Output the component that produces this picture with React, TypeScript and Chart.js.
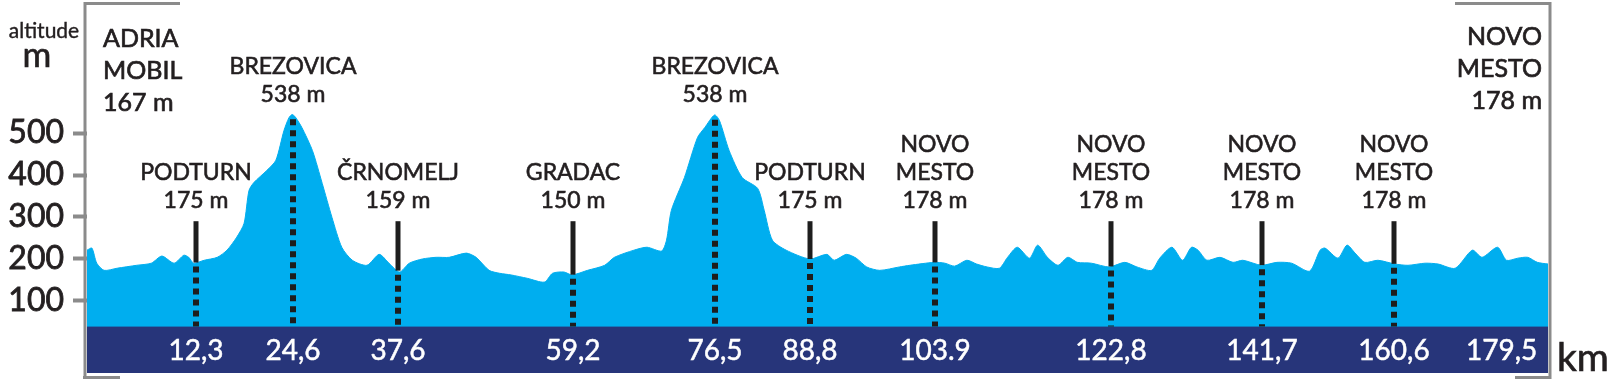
import React, { useEffect, useRef } from "react";
import { Chart, registerables } from "chart.js";

Chart.register(...registerables);

// Profile (position along the drawn km axis, altitude in m)
const PROFILE_KM = [
  0, 0.6, 1.2, 2.1, 3.7, 6.1, 7.9, 9.2, 10.7, 11.9, 12.5, 13.1, 14.4, 16.0, 17.2, 18.4, 19.3, 19.9, 20.5,
  22.1, 23.2, 24.2, 24.8, 25.2, 25.6, 26.4, 27.7, 28.9, 30.1, 31.3, 32.6, 34.4, 35.9, 37.1, 38.4, 39.6,
  41.2, 42.9, 44.5, 46.6, 47.8, 49.4, 50.7, 52.1, 54.1, 56.2, 57.2, 58.6, 59.6, 61.5, 63.6, 64.8, 67.2,
  68.8, 70.6, 71.2, 71.8, 73.4, 75.0, 75.9, 77.1, 77.7, 78.9, 80.5, 82.4, 83.2, 84.2, 85.9, 88.8, 90.9,
  91.8, 93.3, 94.5, 95.8, 97.4, 99.8, 101.1, 104.1, 105.4, 106.6, 108.1, 109.3, 110.6, 112.1, 113.1,
  114.3, 115.8, 116.8, 118.0, 119.3, 120.5, 121.7, 123.4, 125.6, 127.5, 129.0, 130.8, 131.8, 133.3,
  134.6, 135.7, 136.5, 137.6, 139.2, 140.8, 142.0, 144.3, 146.2, 148.0, 150.2, 151.5, 152.1, 153.7,
  154.8, 155.8, 157.0, 158.6, 160.7, 162.3, 164.4, 166.0, 168.1, 170.2, 171.4, 173.3, 174.4, 175.8,
  177.0, 178.2, 179.5,
];
const PROFILE_ALT = [
  221, 226, 190, 173, 178, 185, 190, 207, 190, 209, 204, 190, 197, 204, 221, 252, 285, 363, 382,
  411, 435, 506, 536, 544, 538, 513, 458, 380, 299, 228, 197, 185, 211, 190, 169, 190,
  200, 204, 204, 214, 204, 173, 166, 162, 154, 145, 166, 169, 162, 173, 185, 204, 221,
  228, 219, 245, 316, 394, 489, 513, 543, 530, 458, 394, 368, 316, 245, 221, 200, 211,
  197, 211, 202, 181, 173, 181, 185, 192, 190, 183, 197, 188, 181, 178, 204,
  228, 202, 233, 204, 185, 204, 192, 190, 181, 192, 181, 173, 202, 228,
  197, 228, 221, 197, 204, 192, 197, 185, 192, 190, 171, 221, 226, 202,
  233, 214, 192, 197, 188, 185, 190, 188, 178, 221, 204, 228, 197, 202,
  204, 192, 188,
];

// Markers: position on drawn axis, km label, name lines, altitude label
const MARKER_POS = [13.4, 25.3, 38.2, 59.7, 77.2, 88.8, 104.2, 125.8, 144.4, 160.6];
const MARKER_KM = ["12,3", "24,6", "37,6", "59,2", "76,5", "88,8", "103.9", "122,8", "141,7", "160,6"];
const MARKER_NAMES = [
  ["PODTURN"],
  ["BREZOVICA"],
  ["ČRNOMELJ"],
  ["GRADAC"],
  ["BREZOVICA"],
  ["PODTURN"],
  ["NOVO", "MESTO"],
  ["NOVO", "MESTO"],
  ["NOVO", "MESTO"],
  ["NOVO", "MESTO"],
];
const MARKER_ALT = ["175 m", "538 m", "159 m", "150 m", "538 m", "175 m", "178 m", "178 m", "178 m", "178 m"];

const FINISH_POS = 173.8;
const FINISH_KM = "179,5";
const START_LABEL = ["ADRIA", "MOBIL", "167 m"];
const FINISH_LABEL = ["NOVO", "MESTO", "178 m"];

const Y_TICKS = [100, 200, 300, 400, 500];
const Y_MIN = -71.5;
const Y_MAX = 812;
const X_MAX = 179.5;
const BAND_TOP = 39; // altitude where the km band begins
const MARKER_TOP = 290; // altitude where solid marker lines begin

const FONT = "Lato, 'Open Sans', sans-serif";
const TEXT = "#231f20";
const BLUE = "#00aeef";
const NAVY = "#27357a";
const GRAY = "#8b8b8b";

function interpAlt(km: number): number {
  for (let i = 0; i < PROFILE_KM.length - 1; i++) {
    const a = PROFILE_KM[i];
    const b = PROFILE_KM[i + 1];
    if (km >= a && km <= b) {
      const t = (km - a) / (b - a);
      return PROFILE_ALT[i] + t * (PROFILE_ALT[i + 1] - PROFILE_ALT[i]);
    }
  }
  return PROFILE_ALT[PROFILE_ALT.length - 1];
}

function boldText(ctx: CanvasRenderingContext2D, t: string, x: number, y: number, color: string, sw: number) {
  ctx.fillStyle = color;
  ctx.strokeStyle = color;
  ctx.lineWidth = sw;
  ctx.setLineDash([]);
  ctx.fillText(t, x, y);
  ctx.strokeText(t, x, y);
}

const decorPlugin = {
  id: "decor",
  afterDatasetsDraw(chart: any) {
    const ctx: CanvasRenderingContext2D = chart.ctx;
    const xs = chart.scales.x;
    const ys = chart.scales.y;
    const ca = chart.chartArea;
    ctx.save();

    // km band
    const bandTop = ys.getPixelForValue(BAND_TOP);
    ctx.fillStyle = NAVY;
    ctx.fillRect(ca.left, bandTop, ca.right - ca.left, ca.bottom - bandTop);
    const bandMid = (bandTop + ca.bottom) / 2 + 1;

    // markers
    const solidTop = ys.getPixelForValue(MARKER_TOP);
    MARKER_POS.forEach((pos, i) => {
      const px = Math.round(xs.getPixelForValue(pos));
      const profY = ys.getPixelForValue(interpAlt(pos));
      ctx.strokeStyle = "#1e1e1e";
      ctx.lineWidth = 5;
      ctx.setLineDash([]);
      if (profY > solidTop) {
        ctx.beginPath();
        ctx.moveTo(px, solidTop);
        ctx.lineTo(px, profY);
        ctx.stroke();
      }
      ctx.lineWidth = 6;
      ctx.setLineDash([6, 5]);
      ctx.beginPath();
      ctx.moveTo(px, profY + 4);
      ctx.lineTo(px, bandTop);
      ctx.stroke();
      ctx.setLineDash([]);

      const anchor = Math.min(solidTop, profY);
      const lines = [...MARKER_NAMES[i], MARKER_ALT[i]];
      ctx.font = `400 23px ${FONT}`;
      ctx.textAlign = "center";
      ctx.textBaseline = "middle";
      lines.forEach((t, j) => {
        const y = anchor - 21 - (lines.length - 1 - j) * 28;
        boldText(ctx, t, px, y, TEXT, 0.6);
      });

      // km label
      ctx.font = `400 28px ${FONT}`;
      boldText(ctx, MARKER_KM[i], px, bandMid, "#ffffff", 0.5);
    });
    ctx.font = `400 28px ${FONT}`;
    ctx.textAlign = "center";
    ctx.textBaseline = "middle";
    boldText(ctx, FINISH_KM, xs.getPixelForValue(FINISH_POS), bandMid, "#ffffff", 0.5);

    // start / finish labels
    ctx.font = `400 25px ${FONT}`;
    ctx.textAlign = "left";
    START_LABEL.forEach((t, j) => boldText(ctx, t, ca.left + 16, ca.top + 37 + j * 32, TEXT, 0.7));
    ctx.textAlign = "right";
    FINISH_LABEL.forEach((t, j) => boldText(ctx, t, ca.right - 6, ca.top + 35 + j * 32, TEXT, 0.7));

    // axis captions
    ctx.textAlign = "center";
    ctx.font = `400 21px ${FONT}`;
    boldText(ctx, "altitude", 44, 31, TEXT, 0.4);
    ctx.font = `400 35px ${FONT}`;
    boldText(ctx, "m", 37, 56, TEXT, 0.7);
    ctx.textAlign = "left";
    ctx.textBaseline = "alphabetic";
    ctx.font = `400 39px ${FONT}`;
    boldText(ctx, "km", ca.right + 9, 371, TEXT, 0.7);

    // gray brackets
    ctx.strokeStyle = GRAY;
    ctx.lineWidth = 3;
    ctx.beginPath();
    ctx.moveTo(180, 3.5);
    ctx.lineTo(ca.left - 2, 3.5);
    ctx.lineTo(ca.left - 2, 377.5);
    ctx.moveTo(83, 377.5);
    ctx.lineTo(120, 377.5);
    ctx.moveTo(1455, 3.5);
    ctx.lineTo(ca.right + 2, 3.5);
    ctx.lineTo(ca.right + 2, 377.5);
    ctx.moveTo(1515, 377.5);
    ctx.lineTo(ca.right + 3.5, 377.5);
    ctx.stroke();

    ctx.restore();
  },
};

export default function App() {
  const ref = useRef<HTMLCanvasElement>(null);
  useEffect(() => {
    document.body.style.margin = "0";
    const canvas = ref.current!;
    const chart = new Chart(canvas, {
      type: "line",
      data: {
        datasets: [
          {
            data: PROFILE_KM.map((k, i) => ({ x: k, y: PROFILE_ALT[i] })),
            fill: "start",
            backgroundColor: BLUE,
            borderColor: BLUE,
            borderWidth: 1,
            pointRadius: 0,
            tension: 0.25,
          },
        ],
      },
      options: {
        responsive: false,
        animation: false,
        layout: { padding: { left: 0, right: 63, top: 2, bottom: 8 } },
        plugins: { legend: { display: false }, tooltip: { enabled: false } },
        scales: {
          x: { type: "linear", min: 0, max: X_MAX, display: false },
          y: {
            type: "linear",
            min: Y_MIN,
            max: Y_MAX,
            afterBuildTicks: (s: any) => {
              s.ticks = Y_TICKS.map((v) => ({ value: v }));
            },
            afterFit: (s: any) => {
              s.width = 87;
              s.paddingTop = 0;
              s.paddingBottom = 0;
            },
            ticks: {
              color: TEXT,
              padding: 9,
              font: { family: FONT, size: 32 },
              textStrokeColor: TEXT,
              textStrokeWidth: 0.8,
            },
            grid: {
              drawOnChartArea: false,
              drawTicks: true,
              tickLength: 14,
              tickColor: GRAY,
              tickWidth: 4,
            },
            border: { display: false },
          },
        },
      },
      plugins: [decorPlugin],
    } as any);
    return () => chart.destroy();
  }, []);
  return (
    <div style={{ width: 1611, height: 381 }}>
      <canvas ref={ref} width={1611} height={381} style={{ display: "block" }} />
    </div>
  );
}
